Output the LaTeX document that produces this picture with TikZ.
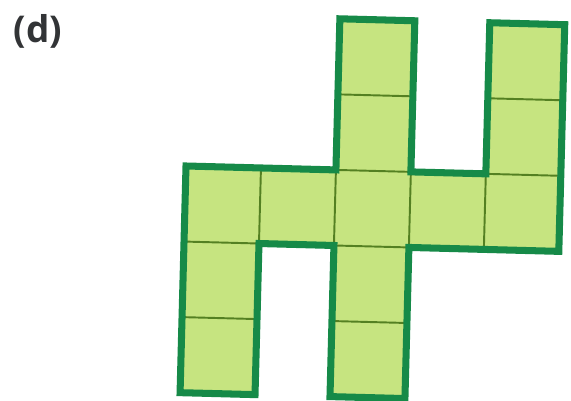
\documentclass[tikz,border=0pt]{standalone}
\usepackage{fontspec}
\setmainfont{Open Sans}
\definecolor{borderg}{RGB}{22,138,72}
\definecolor{fillg}{RGB}{198,228,128}
\definecolor{lineg}{RGB}{84,128,34}
\definecolor{labelc}{RGB}{50,52,54}
\tikzset{
  outline/.style={draw=borderg, line width=4pt, line join=miter},
  innerline/.style={draw=lineg, line width=1.1pt},
  cellfill/.style={fill=fillg}
}
\begin{document}
\begin{tikzpicture}[x=0.02cm, y=-0.02cm]
\useasboundingbox (0,0) rectangle (571,401);
\node[font=\bfseries\fontsize{21}{24}\selectfont, text=labelc, inner sep=0pt] (lab) at (38,31) {(d)};
\begin{scope}[shift={(186,166)}, rotate=-1.5, x=1.5cm, y=-1.512cm]
  \path[cellfill] (0,0) -- (2,0) -- (2,-2) -- (3,-2) -- (3,0) -- (4,0) -- (4,-2) -- (5,-2) -- (5,1) -- (3,1) -- (3,3) -- (2,3) -- (2,1) -- (1,1) -- (1,3) -- (0,3) -- cycle;
  % internal grid lines
  \draw[innerline] (2,-1) -- (3,-1);
  \draw[innerline] (4,-1) -- (5,-1);
  \draw[innerline] (2,0) -- (3,0);
  \draw[innerline] (4,0) -- (5,0);
  \draw[innerline] (0,1) -- (1,1);
  \draw[innerline] (2,1) -- (3,1);
  \draw[innerline] (0,2) -- (1,2);
  \draw[innerline] (2,2) -- (3,2);
  \draw[innerline] (1,0) -- (1,1);
  \draw[innerline] (2,0) -- (2,1);
  \draw[innerline] (3,0) -- (3,1);
  \draw[innerline] (4,0) -- (4,1);
  \draw[outline] (0,0) -- (2,0) -- (2,-2) -- (3,-2) -- (3,0) -- (4,0) -- (4,-2) -- (5,-2) -- (5,1) -- (3,1) -- (3,3) -- (2,3) -- (2,1) -- (1,1) -- (1,3) -- (0,3) -- cycle;
\end{scope}
\end{tikzpicture}
\end{document}
